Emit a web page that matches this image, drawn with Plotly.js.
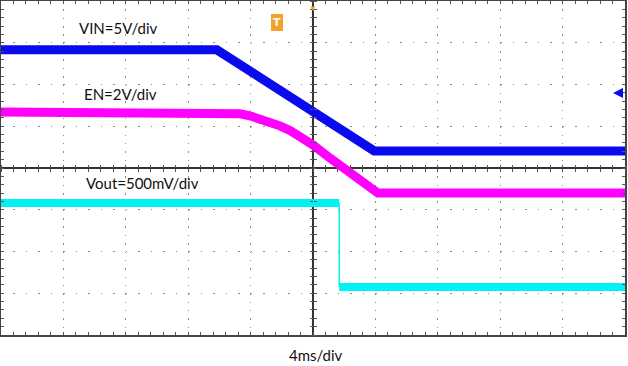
<!DOCTYPE html>
<html>
<head>
<meta charset="utf-8">
<script src="https://cdn.plot.ly/plotly-3.0.1.min.js"></script>
<style>html,body{margin:0;padding:0;background:#fff;}#chart{width:628px;height:366px;}</style>
</head>
<body>
<div id="chart"></div>
<script>
// Time axis in divisions (4 ms/div), vertical in divisions
const vinTime  = [-5, -1.54, 0.98, 5];
const vinLevel = [2.83, 2.83, 0.41, 0.41];

const enTime  = [-5, -1.49, -1.33, -1.17, -1.01, -0.85, -0.69, -0.53, -0.37, -0.21, 0.00, 0.27, 0.51, 0.75, 0.95, 1.00, 1.04, 5];
const enLevel = [1.34, 1.34, 1.33, 1.30, 1.25, 1.18, 1.10, 1.01, 0.90, 0.77, 0.55, 0.24, -0.02, -0.31, -0.53, -0.58, -0.60, -0.60];

const voutTime  = [-5, 0.42, 0.42, 5];
const voutLevel = [-0.84, -0.84, -2.85, -2.85];

const channelLabels = ['VIN=5V/div', 'EN=2V/div', 'Vout=500mV/div'];
const timebaseLabel = '4ms/div';

const BLUE = '#0a0aee', MAGENTA = '#ff00ff', CYAN = '#00f2f2';
const FONT = 'Lato, "Open Sans", sans-serif';

const traces = [
  {x: voutTime.slice(0, 2), y: voutLevel.slice(0, 2), mode: 'lines', line: {color: CYAN, width: 8}, hoverinfo: 'skip'},
  {x: voutTime.slice(1, 3), y: voutLevel.slice(1, 3), mode: 'lines', line: {color: CYAN, width: 1.5}, hoverinfo: 'skip'},
  {x: voutTime.slice(2, 4), y: voutLevel.slice(2, 4), mode: 'lines', line: {color: CYAN, width: 8}, hoverinfo: 'skip'},
  {x: enTime, y: enLevel, mode: 'lines', line: {color: MAGENTA, width: 9}, hoverinfo: 'skip'},
  {x: vinTime, y: vinLevel, mode: 'lines', line: {color: BLUE, width: 9}, hoverinfo: 'skip'},
  {x: [], y: [], xaxis: 'x2', yaxis: 'y2', mode: 'lines', hoverinfo: 'skip'},
  {x: [], y: [], xaxis: 'x3', yaxis: 'y3', mode: 'lines', hoverinfo: 'skip'}
];

const tickCol = '#555';
const baseX = {range: [-5, 5], fixedrange: true, showticklabels: false};
const baseY = {range: [-4, 4], fixedrange: true, showticklabels: false};

const layout = {
  width: 628, height: 366,
  margin: {l: 1, r: 3, t: 1, b: 31, pad: 0},
  paper_bgcolor: '#fff', plot_bgcolor: '#fff',
  showlegend: false,
  font: {family: FONT, color: '#111'},
  xaxis: Object.assign({}, baseX, {
    tick0: 0, dtick: 1, showgrid: true, gridcolor: '#8c8c8c', gridwidth: 1, griddash: '1.5px,6.85px',
    zeroline: true, zerolinecolor: '#333', zerolinewidth: 1.5,
    showline: true, mirror: 'allticks', linecolor: '#444', linewidth: 1.5,
    ticks: 'inside', ticklen: 3, tickcolor: tickCol, tickwidth: 1,
    minor: {dtick: 0.2, tick0: 0, ticks: 'inside', ticklen: 3, tickcolor: tickCol, showgrid: false}
  }),
  yaxis: Object.assign({}, baseY, {
    tick0: 0, dtick: 1, showgrid: true, gridcolor: '#8c8c8c', gridwidth: 1, griddash: '1.5px,10.98px',
    zeroline: true, zerolinecolor: '#333', zerolinewidth: 1.5,
    showline: true, mirror: 'allticks', linecolor: '#444', linewidth: 1.5,
    ticks: 'inside', ticklen: 3, tickcolor: tickCol, tickwidth: 1,
    minor: {dtick: 0.2, tick0: 0, ticks: 'inside', ticklen: 3, tickcolor: tickCol, showgrid: false}
  }),
  xaxis2: Object.assign({}, baseX, {overlaying: 'x', anchor: 'free', position: 0.5, showgrid: false, zeroline: false, showline: false,
    tick0: 0, dtick: 0.2, ticks: 'outside', ticklen: 3, tickcolor: tickCol, tickwidth: 1}),
  yaxis2: Object.assign({}, baseY, {overlaying: 'y', anchor: 'free', position: 0.5, showgrid: false, zeroline: false, showline: false,
    tick0: 0, dtick: 0.2, ticks: 'outside', ticklen: 3, tickcolor: tickCol, tickwidth: 1}),
  xaxis3: Object.assign({}, baseX, {overlaying: 'x', anchor: 'free', position: 0.5, side: 'top', showgrid: false, zeroline: false, showline: false,
    tick0: 0, dtick: 0.2, ticks: 'outside', ticklen: 3, tickcolor: tickCol, tickwidth: 1}),
  yaxis3: Object.assign({}, baseY, {overlaying: 'y', anchor: 'free', position: 0.5, side: 'right', showgrid: false, zeroline: false, showline: false,
    tick0: 0, dtick: 0.2, ticks: 'outside', ticklen: 3, tickcolor: tickCol, tickwidth: 1}),
  annotations: [
    {text: channelLabels[0], x: -3.12, y: 3.35, xref: 'x', yref: 'y', showarrow: false, font: {size: 15, family: FONT, color: '#111'}},
    {text: channelLabels[1], x: -3.08, y: 1.77, xref: 'x', yref: 'y', showarrow: false, font: {size: 15, family: FONT, color: '#111'}},
    {text: channelLabels[2], x: -2.73, y: -0.36, xref: 'x', yref: 'y', showarrow: false, font: {size: 15, family: FONT, color: '#111'}},
    {text: timebaseLabel, x: 0.505, y: -0.06, xref: 'paper', yref: 'paper', showarrow: false, yanchor: 'middle', font: {size: 15, family: FONT, color: '#111'}},
    {text: '<b>T</b>', x: 276/624, y: 1 - 13/334, xref: 'paper', yref: 'paper', showarrow: false,
     bgcolor: '#f5a02a', bordercolor: '#f5a02a', borderpad: 1, font: {size: 11, color: '#fff', family: 'DejaVu Sans'}},
    {text: '▼', x: 0.5, y: 1, xref: 'paper', yref: 'paper', yanchor: 'top', showarrow: false, font: {size: 8, color: '#f5a02a'}},
    {text: '', x: 612/624, y: 1 - 92/334, xref: 'paper', yref: 'paper', showarrow: true, ax: 9, ay: 0,
     arrowhead: 2, arrowsize: 1, arrowwidth: 2, arrowcolor: BLUE}
  ]
};

Plotly.newPlot('chart', traces, layout, {displayModeBar: false, staticPlot: true});
</script>
</body>
</html>
